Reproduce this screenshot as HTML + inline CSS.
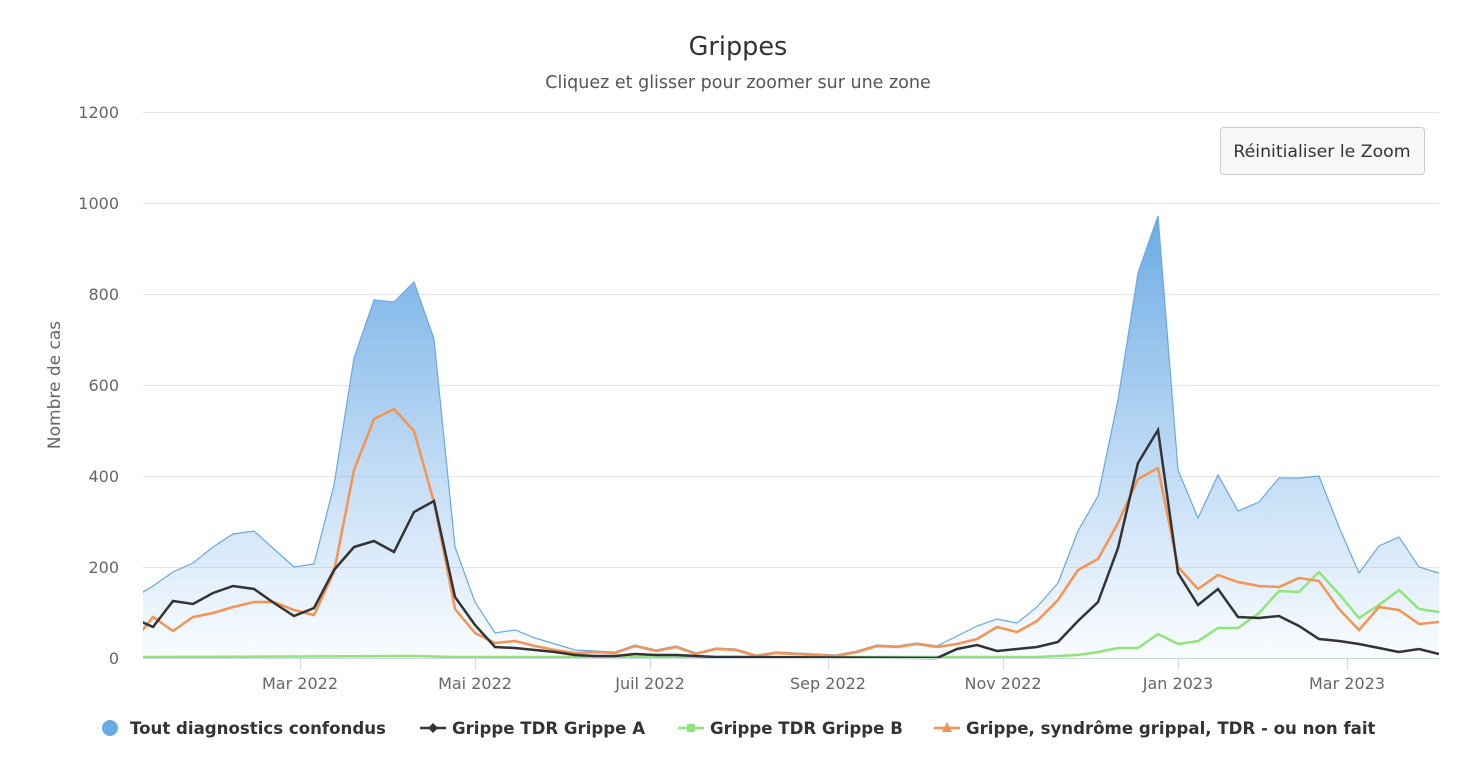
<!DOCTYPE html>
<html><head><meta charset="utf-8"><style>
body{margin:0;background:#fff;}
svg{display:block;font-family:"DejaVu Sans","Liberation Sans",sans-serif;}
</style></head><body>
<svg width="1461" height="763" viewBox="0 0 1461 763" xmlns="http://www.w3.org/2000/svg">
<defs>
<linearGradient id="g" x1="0" y1="216" x2="0" y2="658" gradientUnits="userSpaceOnUse">
<stop offset="0" stop-color="rgb(108,170,228)"/>
<stop offset="1" stop-color="rgb(124,181,236)" stop-opacity="0.04"/>
</linearGradient>
<clipPath id="c"><rect x="143" y="100" width="1296" height="560"/></clipPath>
</defs>
<text x="738" y="55" text-anchor="middle" font-size="25.5" fill="#333">Grippes</text>
<text x="738" y="88" text-anchor="middle" font-size="17.5" fill="#555">Cliquez et glisser pour zoomer sur une zone</text>
<g stroke="#e6e6e6" stroke-width="1">
<line x1="143" y1="112.5" x2="1439" y2="112.5"/><line x1="143" y1="203.5" x2="1439" y2="203.5"/><line x1="143" y1="294.5" x2="1439" y2="294.5"/><line x1="143" y1="385.5" x2="1439" y2="385.5"/><line x1="143" y1="476.5" x2="1439" y2="476.5"/><line x1="143" y1="567.5" x2="1439" y2="567.5"/>
</g>
<g font-size="16" fill="#666" text-anchor="end">
<text x="119" y="118">1200</text><text x="119" y="209">1000</text><text x="119" y="300">800</text><text x="119" y="391">600</text><text x="119" y="482">400</text><text x="119" y="573">200</text><text x="119" y="664">0</text>
</g>
<text transform="translate(60,385) rotate(-90)" text-anchor="middle" font-size="17" fill="#666">Nombre de cas</text>
<g clip-path="url(#c)">
<path fill="url(#g)" d="M133,658 L133,598 153,586 173,572 193,563 213,547 233,534 254,531 274,549 294,567 314,564 334,485 354,358 374,300 394,302 414,282 434,339 455,547 475,602 495,633 515,630 535,638 555,644 575,650 595,651 615,652 635,645 656,650 676,646 696,653 716,648 736,649 756,655 776,652 796,653 816,654 836,655 857,651 877,645 897,646 917,643 937,646 957,636 977,626 997,619 1017,623 1037,607 1058,583 1078,531 1098,496 1118,400 1138,273 1158,216 1178,470 1198,518 1218,475 1238,511 1259,502 1279,478 1299,478 1319,476 1339,527 1359,573 1379,546 1399,537 1419,567 1439,573 L1439,658 Z"/>
<polyline fill="none" stroke="#6aa8e2" stroke-width="1.2" points="133,598 153,586 173,572 193,563 213,547 233,534 254,531 274,549 294,567 314,564 334,485 354,358 374,300 394,302 414,282 434,339 455,547 475,602 495,633 515,630 535,638 555,644 575,650 595,651 615,652 635,645 656,650 676,646 696,653 716,648 736,649 756,655 776,652 796,653 816,654 836,655 857,651 877,645 897,646 917,643 937,646 957,636 977,626 997,619 1017,623 1037,607 1058,583 1078,531 1098,496 1118,400 1138,273 1158,216 1178,470 1198,518 1218,475 1238,511 1259,502 1279,478 1299,478 1319,476 1339,527 1359,573 1379,546 1399,537 1419,567 1439,573"/>
<polyline fill="none" stroke="#90e57a" stroke-width="2.5" points="133,657 414,656 455,657 1037,657 1058,656 1078,655 1098,652 1118,648 1138,648 1158,634 1178,644 1198,641 1218,628 1238,628 1259,613 1279,591 1299,592 1319,572 1339,594 1359,618 1379,605 1399,590 1419,609 1439,612"/>
<polyline fill="none" stroke="#f59452" stroke-width="2.5" points="133,642 153,617 173,631 193,617 213,613 233,607 254,602 274,602 294,610 314,615 334,572 354,470 374,419 394,409 414,431 434,502 455,609 475,633 495,643 515,641 535,646 555,650 575,653 595,652 615,653 635,646 656,651 676,647 696,654 716,649 736,650 756,656 776,653 796,654 816,655 836,656 857,652 877,646 897,647 917,644 937,647 957,644 977,639 997,627 1017,632 1037,621 1058,600 1078,570 1098,559 1118,523 1138,479 1158,468 1178,567 1198,589 1218,575 1238,582 1259,586 1279,587 1299,578 1319,581 1339,609 1359,630 1379,607 1399,610 1419,624 1439,622"/>
<polyline fill="none" stroke="#333" stroke-width="2.5" points="133,618 153,627 173,601 193,604 213,593 233,586 254,589 274,603 294,616 314,608 334,570 354,547 374,541 394,552 414,512 434,501 455,597 475,625 495,647 515,648 535,650 555,652 575,655 595,656 615,656 635,654 656,655 676,655 696,656 716,657 736,657 937,658 957,649 977,645 997,651 1017,649 1037,647 1058,642 1078,621 1098,602 1118,548 1138,463 1158,430 1178,573 1198,605 1218,589 1238,617 1259,618 1279,616 1299,626 1319,639 1339,641 1359,644 1379,648 1399,652 1419,649 1439,654"/>
</g>
<line x1="143" y1="658.5" x2="1439" y2="658.5" stroke="#ccd6eb" stroke-width="1"/>
<g stroke="#ccd6eb" stroke-width="1">
<line x1="300.5" y1="659" x2="300.5" y2="669"/><line x1="475.5" y1="659" x2="475.5" y2="669"/><line x1="650.5" y1="659" x2="650.5" y2="669"/><line x1="828.5" y1="659" x2="828.5" y2="669"/><line x1="1003.5" y1="659" x2="1003.5" y2="669"/><line x1="1178.5" y1="659" x2="1178.5" y2="669"/><line x1="1347.5" y1="659" x2="1347.5" y2="669"/>
</g>
<g font-size="16" fill="#666" text-anchor="middle">
<text x="300" y="689">Mar 2022</text><text x="475" y="689">Mai 2022</text><text x="650" y="689">Juil 2022</text><text x="828" y="689">Sep 2022</text><text x="1003" y="689">Nov 2022</text><text x="1178" y="689">Jan 2023</text><text x="1347" y="689">Mar 2023</text>
</g>
<rect x="1220.5" y="127.5" width="204" height="47" rx="3" fill="#f7f7f7" stroke="#cccccc"/>
<text x="1322" y="157" text-anchor="middle" font-size="17.3" fill="#333">Réinitialiser le Zoom</text>
<g font-size="16.6" font-weight="bold" fill="#333">
<circle cx="110" cy="728" r="8" fill="#6aaae3"/>
<text x="130" y="734">Tout diagnostics confondus</text>
<line x1="420" y1="728" x2="446" y2="728" stroke="#333" stroke-width="2.5"/>
<path d="M433,723 L438,728 433,733 428,728Z" fill="#333"/>
<text x="452" y="734">Grippe TDR Grippe A</text>
<line x1="678" y1="728" x2="704" y2="728" stroke="#90e57a" stroke-width="2.5"/>
<rect x="687" y="724" width="8" height="8" fill="#90e57a"/>
<text x="710" y="734">Grippe TDR Grippe B</text>
<line x1="934" y1="728" x2="960" y2="728" stroke="#f59452" stroke-width="2.5"/>
<path d="M947,722 L952,732 942,732Z" fill="#f59452"/>
<text x="966" y="734">Grippe, syndrôme grippal, TDR - ou non fait</text>
</g>
</svg>
</body></html>
